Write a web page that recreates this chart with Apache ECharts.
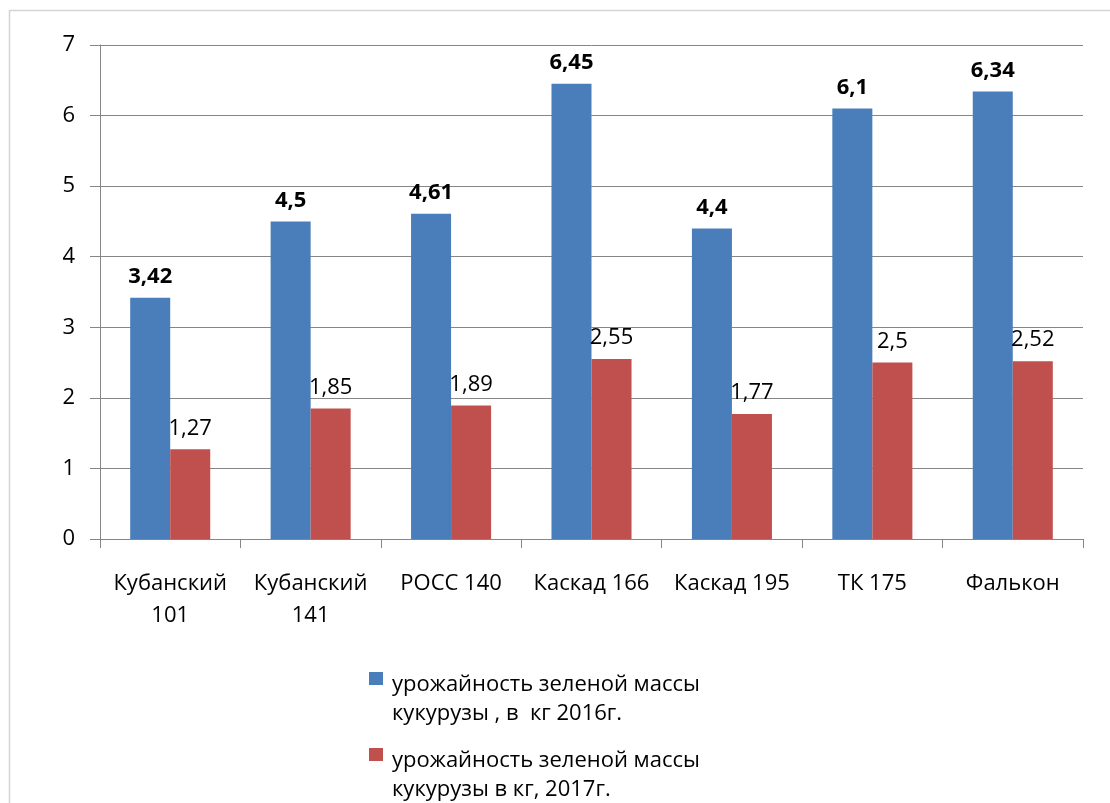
<!DOCTYPE html>
<html><head><meta charset="utf-8">
<script src="https://cdn.jsdelivr.net/npm/echarts@6/dist/echarts.min.js"></script>
<style>html,body{margin:0;padding:0;background:#fff}#c{width:1110px;height:803px}</style>
</head><body><div id="c"></div>
<script>
const categories = ['Кубанский\n101', 'Кубанский\n141', 'РОСС 140', 'Каскад 166', 'Каскад 195', 'ТК 175', 'Фалькон'];
const series2016 = [3.42, 4.5, 4.61, 6.45, 4.4, 6.1, 6.34];
const series2017 = [1.27, 1.85, 1.89, 2.55, 1.77, 2.5, 2.52];
const yTicks = [0, 1, 2, 3, 4, 5, 6, 7];
const name2016 = 'урожайность зеленой массы\nкукурузы , в  кг 2016г.';
const name2017 = 'урожайность зеленой массы\nкукурузы в кг, 2017г.';

const FONT = '"Open Sans", "Noto Sans", sans-serif';
const fmt = p => String(p.value).replace('.', ',');
// legend marker: square at the top-left of a larger box so it sits beside the first text line
const ICON = 'path://M0,0h14v13h-14zM0,54h18';
const legendText = { color: '#000', fontSize: 22, lineHeight: 29, fontFamily: FONT };
const chart = echarts.init(document.getElementById('c'));
chart.setOption({
  animation: false,
  backgroundColor: '#fff',
  textStyle: { fontFamily: FONT },
  graphic: [{
    type: 'rect', silent: true,
    shape: { x: 9.5, y: 10.5, width: 1200, height: 900 },
    style: { fill: 'none', stroke: '#d4d4d4', lineWidth: 1.5 }
  }],
  grid: { left: 100, right: 27, top: 45, bottom: 264, containLabel: false },
  xAxis: {
    type: 'category',
    data: categories,
    axisLine: { lineStyle: { color: '#868686' } },
    axisTick: { show: true, length: 9, lineStyle: { color: '#868686' } },
    axisLabel: { color: '#000', fontSize: 22, lineHeight: 32, margin: 29, interval: 0, fontFamily: FONT }
  },
  yAxis: {
    type: 'value',
    min: yTicks[0], max: yTicks[yTicks.length - 1], interval: 1,
    axisLine: { show: true, lineStyle: { color: '#868686' } },
    axisTick: { show: true, length: 10, lineStyle: { color: '#868686' } },
    axisLabel: { color: '#000', fontSize: 22, margin: 25, fontFamily: FONT },
    splitLine: { lineStyle: { color: '#868686' } }
  },
  legend: [
    {
      left: 369, top: 670, padding: 0,
      itemWidth: 18, itemHeight: 54, icon: ICON,
      data: ['s2016'],
      formatter: () => name2016,
      textStyle: legendText
    },
    {
      left: 369, top: 746, padding: 0,
      itemWidth: 18, itemHeight: 54, icon: ICON,
      data: ['s2017'],
      formatter: () => name2017,
      textStyle: legendText
    }
  ],
  series: [
    {
      name: 's2016', type: 'bar', data: series2016,
      barGap: '0%', barCategoryGap: '43%',
      itemStyle: { color: '#4A7EBB' },
      label: { show: true, position: 'top', distance: 10, formatter: fmt, color: '#000', fontSize: 22, fontWeight: 'bold', fontFamily: FONT }
    },
    {
      name: 's2017', type: 'bar', data: series2017,
      barGap: '0%', barCategoryGap: '43%',
      itemStyle: { color: '#C0504D' },
      label: { show: true, position: 'top', distance: 10, formatter: fmt, color: '#000', fontSize: 22, fontFamily: FONT }
    }
  ]
});
</script></body></html>
